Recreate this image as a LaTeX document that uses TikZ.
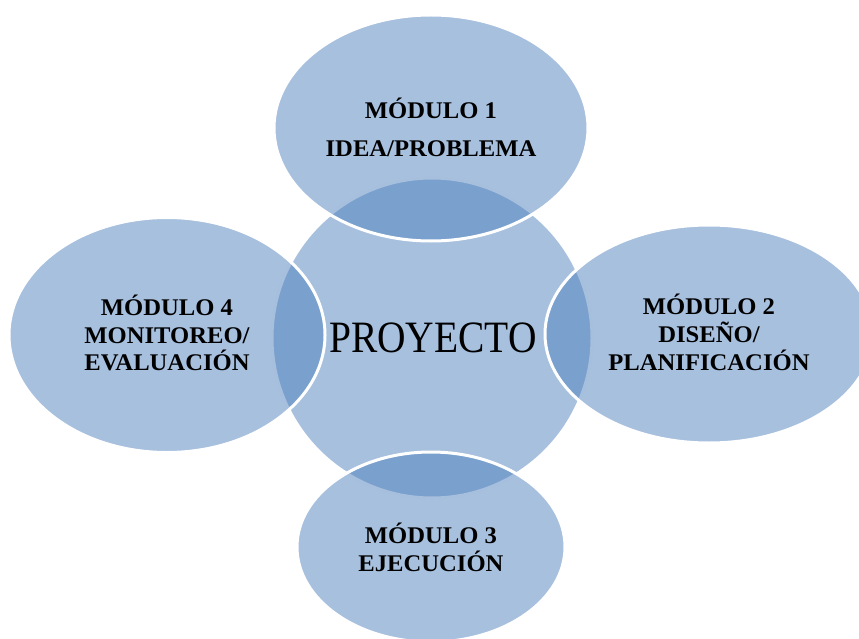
\documentclass[tikz,border=0pt]{standalone}
\usepackage{fontspec}
\setmainfont{Liberation Serif}
\newfontfamily\lblfont{Liberation Serif}[FakeStretch=1.03]
\newfontfamily\projfont{Liberation Serif}[FakeStretch=0.88]
\usetikzlibrary{shapes.geometric}
\definecolor{accblue}{HTML}{4F81BD}
\begin{document}
\begin{tikzpicture}[x=1bp,y=-1bp,
  blob/.style={ellipse, fill=accblue, fill opacity=0.5, draw=white, draw opacity=1, line width=3bp, inner sep=0pt, outer sep=0pt},
  lbl/.style={align=center, font=\lblfont\bfseries\fontsize{24}{28}\selectfont, text=black, inner sep=0pt},
  projlbl/.style={font=\projfont\fontsize{45}{50}\selectfont, text=black, inner sep=0pt, anchor=base}]
\useasboundingbox (0,0) rectangle (859,639);
\clip (0,0) rectangle (859,639);
\node[blob, circle, minimum size=320bp] (core) at (432,338) {};
\node[blob, minimum width=314bp, minimum height=226bp] (top) at (431,128) {};
\node[blob, minimum width=328bp, minimum height=218bp] (right) at (709,334) {};
\node[blob, minimum width=268bp, minimum height=190bp] (bottom) at (431,547) {};
\node[blob, minimum width=316bp, minimum height=235bp] (left) at (167,335) {};
\node[lbl] (t1) at (431,127.5) {MÓDULO 1\\[10bp]IDEA/PROBLEMA};
\node[lbl] (t4) at (167,333) {MÓDULO 4\\MONITOREO/\\EVALUACIÓN};
\node[lbl] (t2) at (709,332) {MÓDULO 2\\DISEÑO/\\PLANIFICACIÓN};
\node[lbl] (t3) at (431,547.5) {MÓDULO 3\\EJECUCIÓN};
\node[projlbl] (pr) at (433,352) {PROYECTO};
\end{tikzpicture}
\end{document}
